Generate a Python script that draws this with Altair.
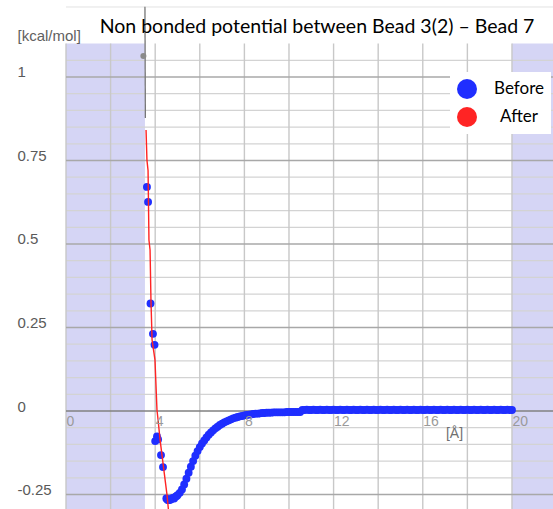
import altair as alt
import pandas as pd

TITLE = "Non bonded potential between Bead 3(2) \u2013 Bead 7"
Y_UNIT = "[kcal/mol]"
X_UNIT = "[\u00c5]"
SERIES = ["Before", "After"]
COLORS = ["#1f2eff", "#ff2424"]

# "Before" series (blue points)
before_x = [3.63, 3.68, 3.79, 3.90, 3.97, 4.00, 4.08, 4.13, 4.26, 4.35,
            4.50, 4.55, 4.60, 4.65, 4.70, 4.75, 4.80, 4.85, 4.90, 4.95,
            5.0, 5.1, 5.2, 5.3, 5.4, 5.5, 5.6, 5.7, 5.8, 5.9,
            6.0, 6.1, 6.2, 6.3, 6.4, 6.5, 6.6, 6.7, 6.8, 6.9,
            7.0, 7.1, 7.2, 7.3, 7.4, 7.5, 7.6, 7.7, 7.8, 7.9,
            8.0, 8.1, 8.2, 8.3, 8.4, 8.5, 8.6, 8.7, 8.8, 8.9,
            9.0, 9.1, 9.2, 9.3, 9.4, 9.5, 9.6, 9.7, 9.8, 9.9,
            10.0, 10.1, 10.2, 10.3, 10.4, 10.5, 10.6, 10.7, 10.8, 10.9,
            11.0, 11.1, 11.2, 11.3, 11.4, 11.5, 11.6, 11.7, 11.8, 11.9,
            12.0, 12.1, 12.2, 12.3, 12.4, 12.5, 12.6, 12.7, 12.8, 12.9,
            13.0, 13.1, 13.2, 13.3, 13.4, 13.5, 13.6, 13.7, 13.8, 13.9,
            14.0, 14.1, 14.2, 14.3, 14.4, 14.5, 14.6, 14.7, 14.8, 14.9,
            15.0, 15.1, 15.2, 15.3, 15.4, 15.5, 15.6, 15.7, 15.8, 15.9,
            16.0, 16.1, 16.2, 16.3, 16.4, 16.5, 16.6, 16.7, 16.8, 16.9,
            17.0, 17.1, 17.2, 17.3, 17.4, 17.5, 17.6, 17.7, 17.8, 17.9,
            18.0, 18.1, 18.2, 18.3, 18.4, 18.5, 18.6, 18.7, 18.8, 18.9,
            19.0, 19.1, 19.2, 19.3, 19.4, 19.5, 19.6, 19.7, 19.8, 19.9,
            20.0]
before_y = [0.671, 0.626, 0.322, 0.231, 0.198, -0.090, -0.076, -0.085, -0.132, -0.168,
            -0.262, -0.266, -0.267, -0.266, -0.265, -0.262, -0.260, -0.262, -0.257, -0.255,
            -0.252, -0.245, -0.235, -0.220, -0.203, -0.185, -0.167, -0.150, -0.134, -0.120,
            -0.108, -0.097, -0.088, -0.079, -0.071, -0.064, -0.058, -0.052, -0.047, -0.042,
            -0.038, -0.034, -0.031, -0.028, -0.025, -0.022, -0.020, -0.018, -0.016, -0.015,
            -0.013, -0.012, -0.011, -0.010, -0.009, -0.008, -0.008, -0.007, -0.006, -0.006,
            -0.005, -0.005, -0.005, -0.004, -0.004, -0.004, -0.004, -0.004, -0.004, -0.003,
            -0.003, -0.003, -0.003, -0.003, -0.003, -0.003, 0.003, 0.003, 0.004, 0.003,
            0.003, 0.004, 0.003, 0.003, 0.004, 0.003, 0.003, 0.004, 0.003, 0.003,
            0.004, 0.003, 0.003, 0.004, 0.003, 0.003, 0.004, 0.003, 0.003, 0.004,
            0.003, 0.003, 0.004, 0.003, 0.003, 0.004, 0.003, 0.003, 0.004, 0.003,
            0.003, 0.004, 0.003, 0.003, 0.004, 0.003, 0.003, 0.004, 0.003, 0.003,
            0.004, 0.003, 0.003, 0.004, 0.003, 0.003, 0.004, 0.003, 0.003, 0.004,
            0.003, 0.003, 0.004, 0.003, 0.003, 0.004, 0.003, 0.003, 0.004, 0.003,
            0.003, 0.004, 0.003, 0.003, 0.004, 0.003, 0.003, 0.004, 0.003, 0.003,
            0.004, 0.003, 0.003, 0.004, 0.003, 0.003, 0.004, 0.003, 0.003, 0.004,
            0.003, 0.003, 0.004, 0.003, 0.003, 0.004, 0.003, 0.003, 0.004, 0.003,
            0.003]

# "After" series (red line)
after_x = [3.59, 3.63, 3.68, 3.72, 3.77, 3.81, 3.86, 3.99, 4.08, 4.13, 4.22, 4.53, 4.60]
after_y = [0.841, 0.751, 0.720, 0.512, 0.482, 0.332, 0.213, 0.153, 0.003, -0.027, -0.087, -0.251, -0.300]

# grey trace above the red line and grey point at the top
grey_x = [3.54, 3.56]
grey_y = [1.21, 0.877]
grey_pt_x = [3.47]
grey_pt_y = [1.063]

# axes / frame
X_MIN, X_MAX = 0, 21.84
Y_MIN, Y_MAX = -0.2934, 1.2305
PLOT_TOP = 1.1
x_ticks = [0, 4, 8, 12, 16, 20]
y_ticks = [-0.25, 0, 0.25, 0.5, 0.75, 1]
shade_x0 = [0, 20]
shade_x1 = [3.54, X_MAX]
vgrid = [0, 2, 4, 6, 8, 10, 12, 14, 16, 18, 20]
hgrid_minor = [round(-0.25 + 0.05 * i, 2) for i in range(27)]
border_y = [1.2096]

FONT = "Liberation Sans"
xs = alt.Scale(domain=[X_MIN, X_MAX], nice=False, zero=False)
ys = alt.Scale(domain=[Y_MIN, Y_MAX], nice=False, zero=False)

X_AX = alt.Axis(values=x_ticks, orient="bottom", offset=-98, domain=False, ticks=False,
                tickSize=0, grid=False, zindex=1, labelAlign="left", labelBaseline="top",
                labelPadding=3, labelColor="#9a9a9a", labelFontSize=14, labelFont=FONT,
                labelFlush=False, labelOverlap=False, title=X_UNIT, titleX=388, titleY=22,
                titleAlign="center", titleBaseline="middle", titleFontWeight="normal",
                titleColor="#707070", titleFontSize=14, titleFont=FONT, titlePadding=0)
Y_AX = alt.Axis(values=y_ticks, labelExpr="'' + datum.value", domain=False, ticks=False,
                tickSize=0, grid=False, zindex=1, labelAlign="left", labelBaseline="alphabetic",
                labelPadding=49, labelColor="#5a5a5a", labelFontSize=15, labelFont=FONT,
                labelFlush=False, labelOverlap=False, title=Y_UNIT, titleAngle=0, titleX=-49,
                titleY=40, titleAlign="left", titleBaseline="alphabetic",
                titleFontWeight="normal", titleColor="#606060", titleFontSize=15,
                titleFont=FONT)


def X(f):
    return alt.X(f, type="quantitative", scale=xs, axis=X_AX)


def Y(f):
    return alt.Y(f, type="quantitative", scale=ys, axis=Y_AX)


shade_df = pd.DataFrame({"x0": shade_x0, "x1": shade_x1,
                         "y0": [Y_MIN] * 2, "y1": [PLOT_TOP] * 2})
shade = alt.Chart(shade_df).mark_rect(color="#d5d5f5").encode(
    x=X("x0"), x2="x1", y=Y("y0"), y2="y1")

hg_df = pd.DataFrame({"y": hgrid_minor, "xl": X_MIN, "xr": X_MAX})
hg_df["major"] = hg_df["y"].apply(lambda v: v in y_ticks)
hminor = alt.Chart(hg_df[~hg_df["major"]]).mark_rule(color="#d3d3d3", strokeWidth=1.3).encode(
    x=X("xl"), x2="xr", y=Y("y"))
hmajor = alt.Chart(hg_df[hg_df["major"] & (hg_df["y"] != 0)]).mark_rule(
    color="#a8a8a8", strokeWidth=1.3).encode(x=X("xl"), x2="xr", y=Y("y"))
zero = alt.Chart(hg_df[hg_df["y"] == 0]).mark_rule(color="#808080", strokeWidth=1.3).encode(
    x=X("xl"), x2="xr", y=Y("y"))

vg_df = pd.DataFrame({"x": vgrid, "yt": PLOT_TOP, "yb": Y_MIN})
vgl = alt.Chart(vg_df).mark_rule(color="#c8c8c8", strokeWidth=1.4).encode(
    x=X("x"), y=Y("yt"), y2="yb")

border_df = pd.DataFrame({"y": border_y, "xl": X_MIN, "xr": X_MAX})
border = alt.Chart(border_df).mark_rule(color="#e2e2e2", strokeWidth=1).encode(
    x=X("xl"), x2="xr", y=Y("y"))

grey_line = alt.Chart(pd.DataFrame({"x": grey_x, "y": grey_y})).mark_line(
    color="#777777", strokeWidth=1.3).encode(x=X("x"), y=Y("y"))
grey_pt = alt.Chart(pd.DataFrame({"x": grey_pt_x, "y": grey_pt_y})).mark_circle(
    color="#8a8a8a", size=36, opacity=1).encode(x=X("x"), y=Y("y"))

before_df = pd.DataFrame({"x": before_x, "y": before_y, "series": SERIES[0]})
points = alt.Chart(before_df).mark_circle(size=62, opacity=1).encode(
    x=X("x"), y=Y("y"),
    color=alt.Color("series:N", scale=alt.Scale(domain=SERIES, range=COLORS),
                    legend=alt.Legend(orient="none", legendX=384, legendY=72, title=None,
                                      fillColor="white", padding=7, symbolSize=400,
                                      symbolType="circle", rowPadding=8, labelFontSize=17,
                                      labelFont="Lato", labelColor="black",
                                      labelAlign="center", labelOffset=42,
                                      symbolStrokeWidth=0, symbolOpacity=1)))

after_df = pd.DataFrame({"x": after_x, "y": after_y})
red = alt.Chart(after_df).mark_line(color=COLORS[1], strokeWidth=1.4, clip=True).encode(
    x=X("x"), y=Y("y"), order=alt.Order("y:Q", sort="descending"))

title = alt.Chart(alt.Data(values=[{}])).mark_text(
    text=TITLE, font="Lato", fontSize=19.5, align="center", baseline="alphabetic",
    color="black").encode(x=alt.value(251), y=alt.value(33))

chart = alt.layer(shade, hminor, vgl, hmajor, zero, border, grey_line, grey_pt,
                  points, red, title).properties(
    width=487, height=509,
    padding={"left": 66, "top": 0, "right": 0, "bottom": 0},
    autosize=alt.AutoSizeParams(type="none"),
    background="white",
).configure_view(stroke=None)

chart.save("out.html", embed_options={"renderer": "svg", "actions": False})
